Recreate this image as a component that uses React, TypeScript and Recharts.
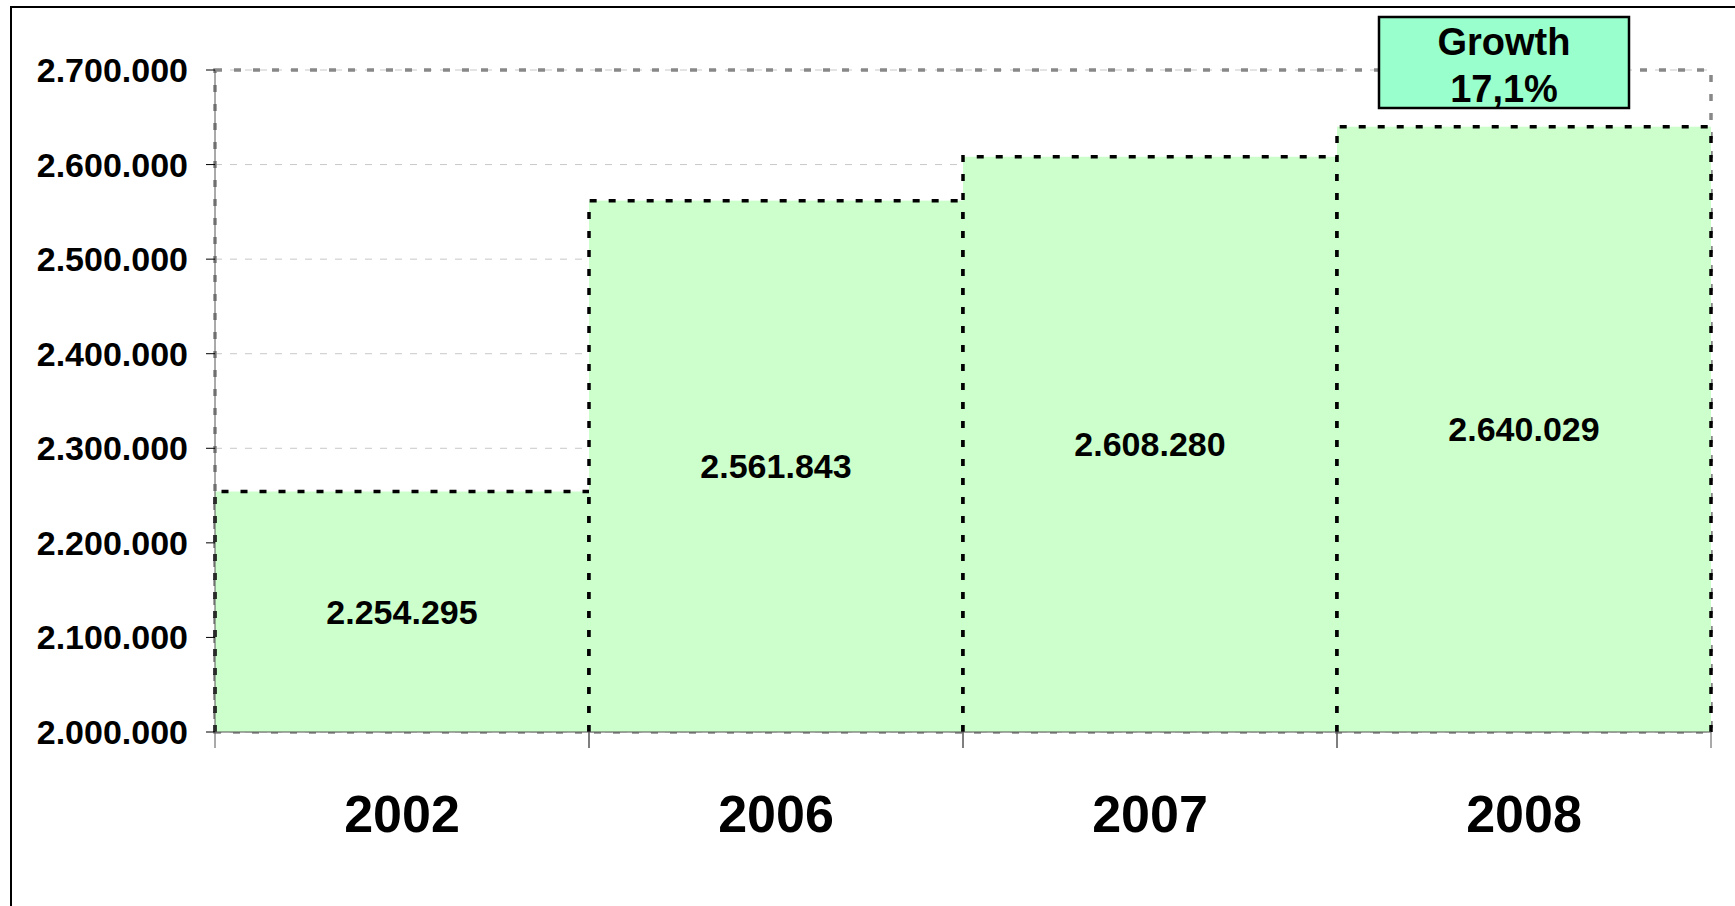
import React from "react";
import {
  BarChart,
  Bar,
  XAxis,
  YAxis,
  CartesianGrid,
  ReferenceArea,
  ReferenceDot,
  LabelList,
} from "recharts";

const years = ["2002", "2006", "2007", "2008"];
const visitors = [2254295, 2561843, 2608280, 2640029];
const yTicks = [2000000, 2100000, 2200000, 2300000, 2400000, 2500000, 2600000, 2700000];
const growthLines = ["Growth", "17,1%"];

const data = years.map((year, i) => ({ year, value: visitors[i] }));

const FONT = '"Liberation Sans", Arial, sans-serif';

const fmt = (v: number) => String(v).replace(/\B(?=(\d{3})+(?!\d))/g, ".");

// bar with dashed outline on left/top/right only (vertical edges start at the bottom)
const DashedBar = (props: any) => {
  const { x, y, width, height, fill } = props;
  if (width == null || height == null) return null;
  const d = `M${x},${y + height} L${x},${y} L${x + width},${y} M${x + width},${y + height} L${x + width},${y}`;
  return (
    <g>
      <rect x={x} y={y} width={width} height={height} fill={fill} />
      <path d={d} fill="none" stroke="#000" strokeWidth={3.5} strokeDasharray="7 12" />
    </g>
  );
};

// category label plus tick marks on the band edges
const YearTick = (props: any) => {
  const { x, y, payload } = props;
  const half = payload?.offset ?? 0;
  return (
    <g>
      <line x1={x - half} x2={x - half} y1={y} y2={y + 16} stroke="#555" />
      <line x1={x + half} x2={x + half} y1={y} y2={y + 16} stroke="#555" />
      <text
        x={x}
        y={y + 63}
        dy="0.71em"
        textAnchor="middle"
        fontFamily={FONT}
        fontWeight="bold"
        fontSize={52}
        fill="#000"
      >
        {payload.value}
      </text>
    </g>
  );
};

const GrowthBox = (props: any) => {
  const { cx, cy } = props;
  const w = 250;
  const h = 91;
  const bx = cx - 20 - w / 2;
  const by = cy - 53;
  return (
    <g>
      <rect x={bx} y={by} width={w} height={h} fill="#99FFCC" stroke="#000" strokeWidth={2.5} />
      {growthLines.map((t, i) => (
        <text
          key={t}
          x={bx + w / 2}
          y={by + 38 + i * 47}
          textAnchor="middle"
          fontFamily={FONT}
          fontWeight="bold"
          fontSize={38}
          fill="#000"
        >
          {t}
        </text>
      ))}
    </g>
  );
};

export default function App() {
  return (
    <div
      style={{
        position: "fixed",
        left: 0,
        top: 0,
        width: 1735,
        height: 906,
        background: "#fff",
        overflow: "hidden",
      }}
    >
      <div
        style={{
          position: "absolute",
          left: 10,
          top: 6,
          width: 1900,
          height: 1100,
          border: "2px solid #000",
        }}
      />
      <div style={{ position: "absolute", left: 0, top: 0 }}>
        <BarChart
          width={1735}
          height={906}
          data={data}
          margin={{ top: 70, right: 24, left: 0, bottom: 0 }}
          barCategoryGap={0}
        >
          <CartesianGrid
            vertical={false}
            stroke="#c8c8c8"
            strokeDasharray="7 8"
          />
          <ReferenceArea
            y1={2000000}
            y2={2700000}
            fill="none"
            stroke="#888"
            strokeWidth={3.5}
            strokeDasharray="7 12"
            ifOverflow="visible"
          />
          <XAxis
            dataKey="year"
            height={174}
            tickLine={false}
            tickSize={0}
            tickMargin={0}
            axisLine={{ stroke: "#555" }}
            tick={<YearTick />}
            interval={0}
          />
          <YAxis
            width={215}
            domain={[2000000, 2700000]}
            ticks={yTicks}
            tickFormatter={fmt}
            tickSize={9}
            tickMargin={18}
            axisLine={{ stroke: "#555" }}
            tickLine={{ stroke: "#000" }}
            tick={{ fill: "#000", fontFamily: FONT, fontWeight: "bold", fontSize: 34 }}
            allowDataOverflow
          />
          <Bar
            dataKey="value"
            fill="#CCFFCC"
            shape={<DashedBar />}
            isAnimationActive={false}
          >
            <LabelList
              dataKey="value"
              position="center"
              formatter={(v: any) => fmt(Number(v))}
              fill="#000"
              fontFamily={FONT}
              fontWeight="bold"
              fontSize={34}
            />
          </Bar>
          <ReferenceDot
            x="2008"
            y={2700000}
            r={0}
            ifOverflow="visible"
            shape={<GrowthBox />}
          />
        </BarChart>
      </div>
    </div>
  );
}
